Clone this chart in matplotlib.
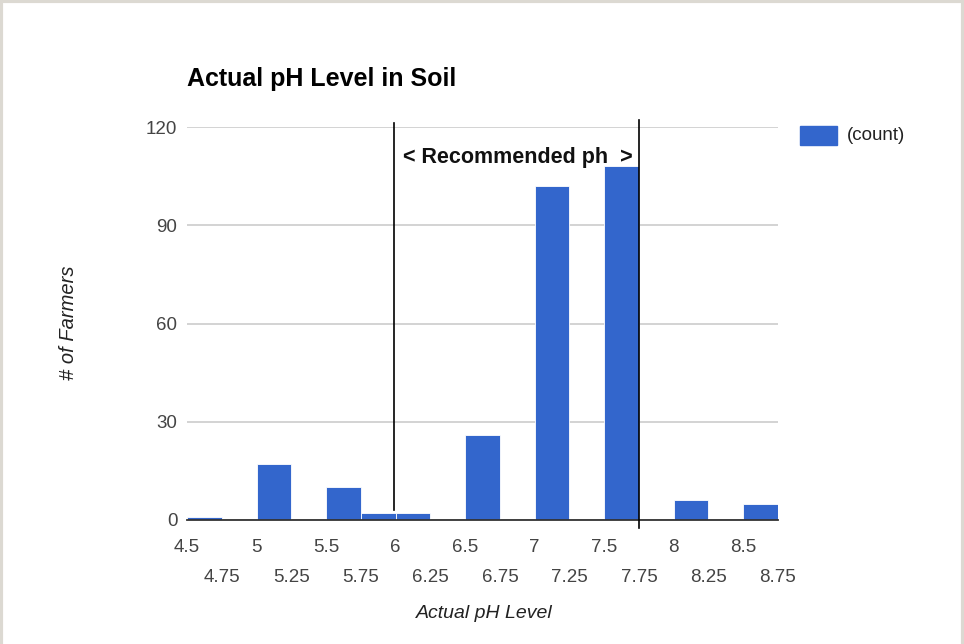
import matplotlib.pyplot as plt
from matplotlib.lines import Line2D
from matplotlib.patches import Rectangle

BIN_STARTS = [4.5, 4.75, 5.0, 5.25, 5.5, 5.75, 6.0, 6.25, 6.5,
              6.75, 7.0, 7.25, 7.5, 7.75, 8.0, 8.25, 8.5]
COUNTS = [1, 0, 17, 0, 10, 2, 2, 0, 26, 0, 102, 0, 108, 0, 6, 0, 5]
BIN_WIDTH = 0.25

UPPER_TICKS = [4.5, 5, 5.5, 6, 6.5, 7, 7.5, 8, 8.5]
UPPER_LABELS = ["4.5", "5", "5.5", "6", "6.5", "7", "7.5", "8", "8.5"]
LOWER_TICKS = [4.75, 5.25, 5.75, 6.25, 6.75, 7.25, 7.75, 8.25, 8.75]
LOWER_LABELS = ["4.75", "5.25", "5.75", "6.25", "6.75", "7.25", "7.75", "8.25", "8.75"]
Y_TICKS = [0, 30, 60, 90, 120]

RECOMMENDED = [5.985, 7.75]

BLUE = "#3366cc"
TEXT_GRAY = "#444444"

plt.rcParams["font.family"] = ["Liberation Sans", "DejaVu Sans"]

fig = plt.figure(figsize=(9.64, 6.44), dpi=100)
ax = fig.add_axes([187 / 964, 1 - 520 / 644, (778 - 187) / 964, (520 - 127) / 644])

ax.bar(BIN_STARTS, COUNTS, width=BIN_WIDTH, align="edge", color=BLUE,
       edgecolor="white", linewidth=0.6, zorder=3)

ax.set_xlim(4.5, 8.75)
ax.set_ylim(0, 120)
ax.set_yticks(Y_TICKS)
ax.set_yticklabels([str(v) for v in Y_TICKS])
ax.grid(axis="y", color="#cccccc", linewidth=1.2, zorder=0)
ax.set_axisbelow(True)
for side in ["top", "right", "left"]:
    ax.spines[side].set_visible(False)
ax.spines["bottom"].set_color("#333333")
ax.spines["bottom"].set_linewidth(1.3)
ax.spines["bottom"].set_zorder(4)

ax.set_xticks(UPPER_TICKS)
ax.set_xticklabels(UPPER_LABELS)
ax.set_xticks(LOWER_TICKS, minor=True)
ax.set_xticklabels(LOWER_LABELS, minor=True)
ax.tick_params(axis="x", which="major", length=0, pad=14, labelsize=13.5,
               labelcolor=TEXT_GRAY)
ax.tick_params(axis="x", which="minor", length=0, pad=35, labelsize=13.5,
               labelcolor=TEXT_GRAY)
ax.tick_params(axis="y", length=0, pad=7, labelsize=13.5, labelcolor=TEXT_GRAY)

# recommended range markers
ax.plot([RECOMMENDED[0]] * 2, [3.0, 121.2], color="black", linewidth=1.2,
        clip_on=False, zorder=5)
ax.plot([RECOMMENDED[1]] * 2, [-2.4, 122.1], color="black", linewidth=1.2,
        clip_on=False, zorder=5)
ax.text(6.05, 110.8, "< Recommended ph  >", fontsize=15.5, fontweight="bold",
        color="#111111", ha="left", va="center", zorder=6)

fig.text(187 / 964, 1 - 79 / 644, "Actual pH Level in Soil", fontsize=18,
         fontweight="bold", color="black", ha="left", va="center")
fig.text(68 / 964, 1 - 323 / 644, "# of Farmers", fontsize=14.5,
         style="italic", color="#222222", rotation=90, ha="center", va="center")
fig.text(484 / 964, 1 - 613 / 644, "Actual pH Level", fontsize=14,
         style="italic", color="#222222", ha="center", va="center")

# legend
fig.add_artist(Rectangle((800 / 964, 1 - 145 / 644), 37 / 964, 19 / 644,
                         transform=fig.transFigure, color=BLUE))
fig.text(847 / 964, 1 - 136 / 644, "(count)", fontsize=13.5, color="#222222",
         ha="left", va="center")

# gray frame around the screenshot
frame = "#dcd9d2"
fig.add_artist(Line2D([0.0015, 0.0015], [0, 1], transform=fig.transFigure,
                      color=frame, linewidth=3))
fig.add_artist(Line2D([0.9985, 0.9985], [0, 1], transform=fig.transFigure,
                      color=frame, linewidth=3))
fig.add_artist(Line2D([0, 1], [0.9977, 0.9977], transform=fig.transFigure,
                      color=frame, linewidth=3))

fig.savefig("out.png", dpi=100)
plt.close(fig)
